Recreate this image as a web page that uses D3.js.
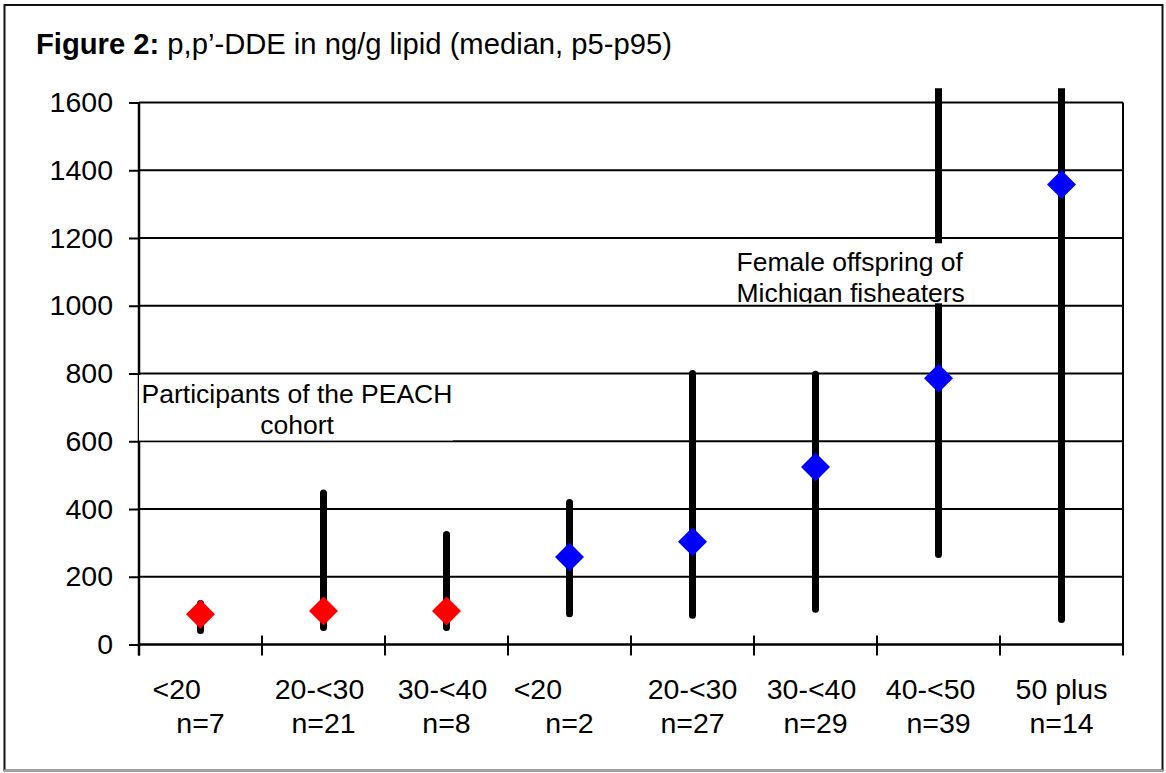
<!DOCTYPE html>
<html>
<head>
<meta charset="utf-8">
<script src="https://cdn.jsdelivr.net/npm/d3@7"></script>
<style>
  html, body { margin: 0; padding: 0; background: #fff; }
  svg { display: block; }
  text { font-family: "Liberation Sans", Arial, sans-serif; fill: #000; }
</style>
</head>
<body>
<svg id="chart" width="1166" height="773"></svg>
<script>
// ---- data ----
const ageGroups = ["<20      ", "20-<30 ", "30-<40 ", "<20        ", "20-<30", "30-<40 ", "40-<50  ", "50 plus"];
const sampleSizes = ["n=7", "n=21", "n=8", "n=2", "n=27", "n=29", "n=39", "n=14"];
const cohort = ["PEACH", "PEACH", "PEACH", "Michigan", "Michigan", "Michigan", "Michigan", "Michigan"];
const medians = [89, 99, 99, 258, 303, 524, 786, 1358];
const p5 = [41, 50, 50, 91, 86, 104, 266, 74];
const p95 = [121, 447, 325, 419, 800, 798, 2000, 2000];
const yTicks = [0, 200, 400, 600, 800, 1000, 1200, 1400, 1600];
const titleBold = "Figure 2:";
const titleRest = " p,p\u2019-DDE in ng/g lipid (median, p5-p95)";
const peachNote = ["Participants of the PEACH", "cohort"];
const michiganNote = ["Female offspring of", "Michigan fisheaters"];

(function () {
// ---- layout ----
const pLeft = 139, pRight = 1123, pTop = 102.5, pBottom = 644.5;
const svg = d3.select("#chart");
const colors = { PEACH: "#ff0000", Michigan: "#0000ff" };

const x = d3.scaleBand().domain(d3.range(ageGroups.length)).range([pLeft, pRight]).padding(0);
const y = d3.scaleLinear().domain([0, 1600]).range([pBottom, pTop]);
const cx = i => x(i) + x.bandwidth() / 2;

// outer frame
svg.append("rect").attr("x", 4.5).attr("y", 5).attr("width", 1158).attr("height", 765.5)
  .attr("fill", "#fff").attr("stroke", "#111").attr("stroke-width", 2);
svg.append("line").attr("x1", 4).attr("x2", 1163).attr("y1", 770.5).attr("y2", 770.5)
  .attr("stroke", "#aaa").attr("stroke-width", 2);

// title
const title = svg.append("text").attr("x", 36).attr("y", 54).style("font-size", "29.2px")
  .style("white-space", "pre");
title.append("tspan").attr("font-weight", "bold").text(titleBold);
title.append("tspan").text(titleRest);

// gridlines
svg.append("g").selectAll("line").data(yTicks.filter(d => d > 0)).join("line")
  .attr("x1", pLeft).attr("x2", pRight)
  .attr("y1", d => y(d)).attr("y2", d => y(d))
  .attr("stroke", "#000").attr("stroke-width", 2);

// right border of plot
svg.append("line").attr("x1", pRight).attr("x2", pRight).attr("y1", y(1600)).attr("y2", y(0))
  .attr("stroke", "#000").attr("stroke-width", 2);

// y axis
const yAxis = d3.axisLeft(y).tickValues(yTicks).tickSize(10).tickPadding(16).tickFormat(d3.format("d"));
const gy = svg.append("g").attr("transform", `translate(${pLeft},0)`).call(yAxis);
gy.select(".domain").attr("stroke", "#000").attr("stroke-width", 2.5)
  .attr("d", `M0,${y(1600)}V${pBottom + 11}`);
gy.selectAll(".tick line").attr("stroke", "#000").attr("stroke-width", 2);
gy.selectAll(".tick text").style("font-size", "28.5px")
  .style("font-family", "'Liberation Sans', Arial, sans-serif").attr("fill", "#000");

// x axis line and boundary ticks
svg.append("line").attr("x1", pLeft).attr("x2", pRight).attr("y1", pBottom).attr("y2", pBottom)
  .attr("stroke", "#000").attr("stroke-width", 2.5);
const bounds = ageGroups.map((d, i) => x(i)).concat([pRight]);
svg.append("g").selectAll("line").data(bounds).join("line")
  .attr("x1", d => d).attr("x2", d => d)
  .attr("y1", pBottom - 9).attr("y2", pBottom + 11)
  .attr("stroke", "#000").attr("stroke-width", 2);

// x labels
const xl = svg.append("g").selectAll("text").data(ageGroups).join("text")
  .attr("text-anchor", "middle").style("font-size", "28.5px").style("white-space", "pre");
xl.append("tspan").attr("x", (d, i) => cx(i)).attr("y", 699).text(d => d);
xl.append("tspan").attr("x", (d, i) => cx(i)).attr("y", 733).text((d, i) => sampleSizes[i]);

// clip for whiskers
svg.append("clipPath").attr("id", "plotclip").append("rect")
  .attr("x", pLeft).attr("y", y(1642)).attr("width", pRight - pLeft).attr("height", pBottom - y(1642) + 20);

// whiskers p5-p95
svg.append("g").attr("clip-path", "url(#plotclip)").selectAll("line").data(medians).join("line")
  .attr("x1", (d, i) => cx(i)).attr("x2", (d, i) => cx(i))
  .attr("y1", (d, i) => y(p5[i])).attr("y2", (d, i) => y(p95[i]))
  .attr("stroke", "#000").attr("stroke-width", 7).attr("stroke-linecap", "round");

// annotation: PEACH
svg.append("rect").attr("x", pLeft).attr("y", y(800) + 1.5).attr("width", 314)
  .attr("height", y(600) - y(800) - 2).attr("fill", "#fff");
svg.append("line").attr("x1", pLeft).attr("x2", pLeft + 314).attr("y1", y(600)).attr("y2", y(600))
  .attr("stroke", "#000").attr("stroke-width", 1);
svg.append("text").attr("text-anchor", "middle").style("font-size", "26.5px")
  .selectAll("tspan").data(peachNote).join("tspan")
  .attr("x", 297).attr("y", (d, i) => 403 + i * 31).text(d => d);

// annotation: Michigan
svg.append("clipPath").attr("id", "noteclip").append("rect")
  .attr("x", 730).attr("y", 243.3).attr("width", 240).attr("height", 60);
svg.append("rect").attr("x", 730).attr("y", 243.3).attr("width", 240).attr("height", 60).attr("fill", "#fff");
svg.append("text").attr("clip-path", "url(#noteclip)").style("font-size", "26.5px")
  .selectAll("tspan").data(michiganNote).join("tspan")
  .attr("x", 736.5).attr("y", (d, i) => 271 + i * 31).text(d => d);

// median diamonds
const diamond = d3.symbol().type(d3.symbolSquare).size(420);
svg.append("g").selectAll("path").data(medians).join("path")
  .attr("d", diamond)
  .attr("transform", (d, i) => `translate(${cx(i)},${y(d)}) rotate(45)`)
  .attr("fill", (d, i) => colors[cohort[i]]);
})();
</script>
</body>
</html>
